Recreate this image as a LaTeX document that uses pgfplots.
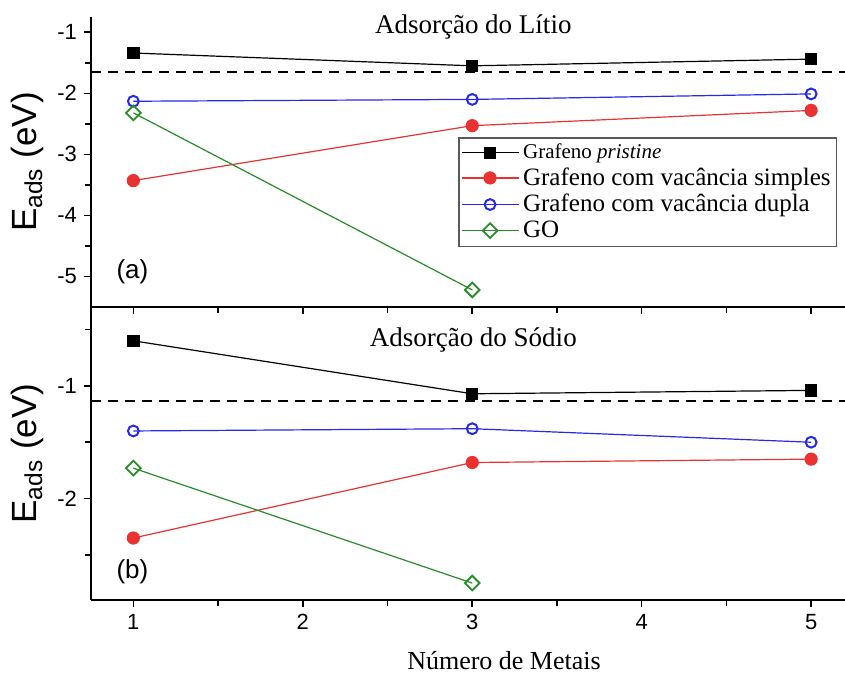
\documentclass[border=0pt]{standalone}
\usepackage{fontspec}
\setmainfont{Liberation Serif}
\newfontfamily\arial{Liberation Sans}
\usepackage{pgfplots}
\pgfplotsset{compat=1.18}
\usepgfplotslibrary{groupplots}
\usetikzlibrary{calc}
\definecolor{pred}{RGB}{235,50,50}
\definecolor{pblue}{RGB}{40,40,235}
\definecolor{pgreen}{RGB}{40,140,40}

\begin{document}
\begin{tikzpicture}
\begin{groupplot}[
  group style={group size=1 by 2, vertical sep=0pt, x descriptions at=edge bottom},
  scale only axis, width=377pt,
  xmin=0.75, xmax=5.2,
  xtick={1,2,3,4,5}, minor xtick={1.5,2.5,3.5,4.5},
  axis x line=bottom, axis y line=left,
  axis line style={-, line width=1pt},
  tick align=outside, major tick length=3.5pt, minor tick length=3pt,
  every tick/.style={black, line width=0.8pt},
  ticklabel style={font=\arial\fontsize{11}{13}\selectfont},
  /pgf/number format/assume math mode=true,
  ylabel={\arial E\textsubscript{ads} (eV)},
  ylabel style={font=\fontsize{17.5}{20}\selectfont},
  xlabel={Número de Metais},
  xlabel style={font=\fontsize{13}{15}\selectfont, xshift=18pt, yshift=-4pt},
  every axis plot/.append style={line width=0.6pt},
  legend image code/.code={\draw[mark repeat=2, mark phase=2] plot coordinates {(0cm,0cm) (0.5cm,0cm) (1cm,0cm)};},
  clip=false,
]

% Litio
\nextgroupplot[height=145pt, ymin=-5.5, ymax=-0.75,
  ytick={-5,-4,-3,-2,-1}, minor ytick={-4.5,-3.5,-2.5,-1.5},
  legend style={at={(0.487,0.586)}, anchor=north west, draw=black!65, line width=0.8pt,
    font=\fontsize{12.5}{15}\selectfont, cells={anchor=west}, inner sep=1pt,
    row sep=-1pt}]
\addplot[black, mark=square*, mark size=2.8pt] coordinates {(1,-1.34) (3,-1.55) (5,-1.44)};
\addplot[pred, mark=*, mark size=3pt] coordinates {(1,-3.43) (3,-2.53) (5,-2.28)};
\addplot[pblue, mark=o, mark size=2.7pt, mark options={line width=1pt}] coordinates {(1,-2.13) (3,-2.10) (5,-2.01)};
\addplot[pgreen, mark=square, mark size=2.6pt, mark options={rotate=45, line width=0.9pt}] coordinates {(1,-2.32) (3,-5.22)};
\addplot[black, line width=1pt, dash pattern=on 5pt off 3.5pt, forget plot] coordinates {(0.75,-1.65) (5.2,-1.65)};
\legend{{\fontsize{10.5}{12}\selectfont Grafeno \textit{pristine}}, Grafeno com vacância simples, Grafeno com vacância dupla, GO}
\node[font=\fontsize{13.5}{15}\selectfont] at (rel axis cs:0.507,0.966) {Adsorção do Lítio};
\node[font=\arial\fontsize{13}{15}\selectfont] at (rel axis cs:0.055,0.12) {(a)};

% Sodio
\nextgroupplot[height=146.5pt, ymin=-2.9, ymax=-0.3,
  ytick={-2,-1}, minor ytick={-2.5,-1.5,-0.5}]
\addplot[black, mark=square*, mark size=2.8pt] coordinates {(1,-0.60) (3,-1.07) (5,-1.04)};
\addplot[pred, mark=*, mark size=3pt] coordinates {(1,-2.35) (3,-1.68) (5,-1.65)};
\addplot[pblue, mark=o, mark size=2.7pt, mark options={line width=1pt}] coordinates {(1,-1.40) (3,-1.38) (5,-1.50)};
\addplot[pgreen, mark=square, mark size=2.6pt, mark options={rotate=45, line width=0.9pt}] coordinates {(1,-1.73) (3,-2.75)};
\addplot[black, line width=1pt, dash pattern=on 5pt off 3.5pt] coordinates {(0.75,-1.13) (5.2,-1.13)};
\node[font=\fontsize{13.5}{15}\selectfont] at (rel axis cs:0.507,0.887) {Adsorção do Sódio};
\node[font=\arial\fontsize{13}{15}\selectfont] at (rel axis cs:0.055,0.096) {(b)};
\end{groupplot}
\pgfresetboundingbox
\path ($(group c1r1.north west)+(-45.5pt,8.5pt)$) rectangle ($(group c1r2.south east)+(0pt,-37.5pt)$);
\end{tikzpicture}
\end{document}
